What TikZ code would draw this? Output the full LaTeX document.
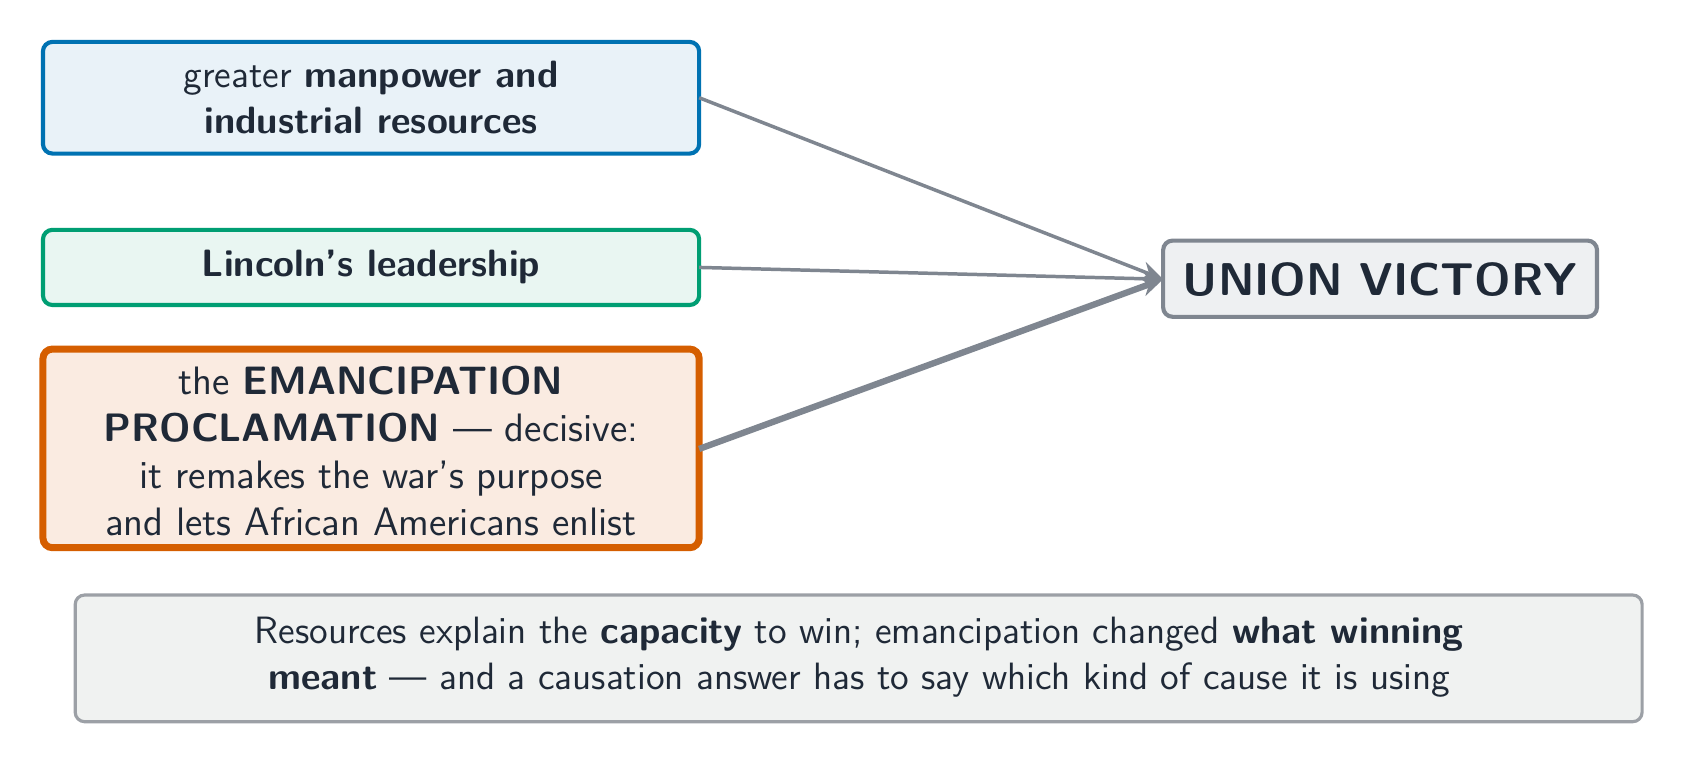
\documentclass[tikz,border=0pt]{standalone}
\usetikzlibrary{arrows.meta}
\definecolor{ink}{HTML}{1F2937}
\definecolor{bl}{HTML}{0072B2}\definecolor{blf}{HTML}{E9F2F8}
\definecolor{gr}{HTML}{009E73}\definecolor{grf}{HTML}{E9F6F2}
\definecolor{or}{HTML}{D55E00}\definecolor{orf}{HTML}{FAEBE1}
\definecolor{gy}{HTML}{7F8690}\definecolor{gyf}{HTML}{EEF0F2}
\definecolor{nb}{HTML}{9CA0A6}\definecolor{nf}{HTML}{F0F2F1}
\begin{document}
\begin{tikzpicture}[x=0.0119cm,y=-0.0119cm,font=\sffamily\fontsize{12}{14.5}\selectfont,text=ink,
 box/.style={draw,rounded corners=3pt,align=center,inner sep=0pt},
 arr/.style={draw=gy,line width=1.1pt,-{Stealth[length=7pt,width=6pt]}}]
\useasboundingbox (0,0) rectangle (1568,712);
\path[box,draw=bl,fill=blf,line width=1.3pt] (40,39) rectangle (651,143);
\node[align=center] (a) at (345.5,91) {greater \textbf{manpower and}\\\textbf{industrial resources}};
\path[box,draw=gr,fill=grf,line width=1.3pt] (40,214) rectangle (651,284);
\node (b) at (345.5,249) {\textbf{Lincoln's leadership}};
\path[box,draw=or,fill=orf,line width=2.2pt] (40,325) rectangle (651,510);
\node[align=center,font=\sffamily\fontsize{12.5}{14.8}\selectfont] (c) at (345.5,420) {the \textbf{EMANCIPATION}\\\textbf{PROCLAMATION} --- decisive:\\it remakes the war's purpose\\and lets African Americans enlist};
\path[box,draw=gy,fill=gyf,line width=1.3pt] (1083,224) rectangle (1487,295);
\node[font=\sffamily\bfseries\fontsize{14.5}{17}\selectfont] (u) at (1285,260) {UNION VICTORY};
\coordinate (ua) at (1083,260);
\coordinate (a1) at (651,91);\coordinate (b1) at (651,249);\coordinate (c1) at (651,418);
\draw[arr] (a1) -- (ua);
\draw[arr] (b1) -- (ua);
\draw[arr,line width=2pt] (c1) -- (ua);
\path[box,draw=nb,fill=nf,line width=1pt] (70,554) rectangle (1529,672);
\node[align=center] (n) at (800,612) {Resources explain the \textbf{capacity} to win; emancipation changed \textbf{what winning}\\\textbf{meant} --- and a causation answer has to say which kind of cause it is using};
\end{tikzpicture}
\end{document}
